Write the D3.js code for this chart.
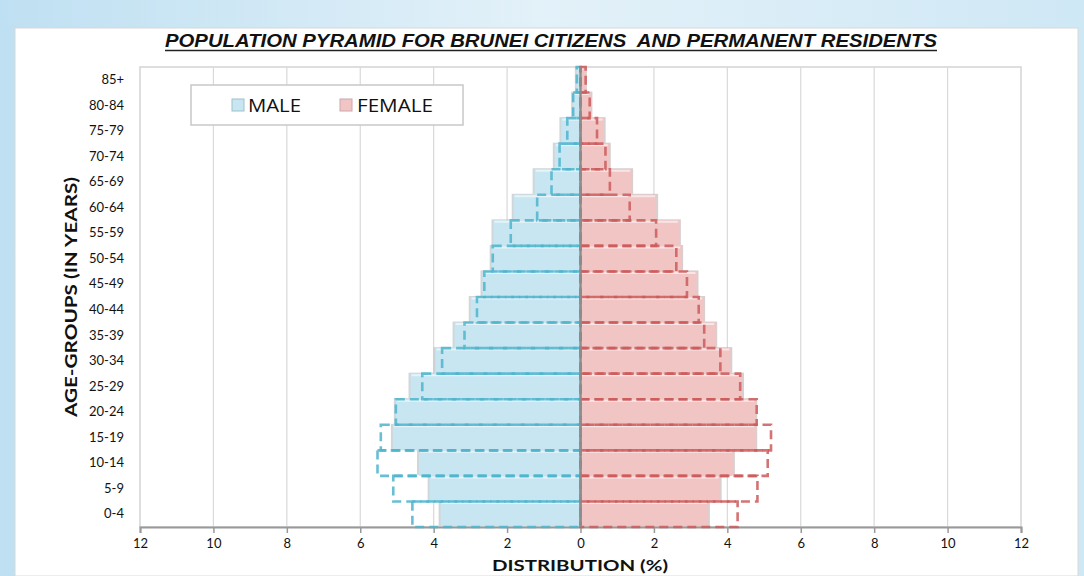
<!DOCTYPE html>
<html>
<head>
<meta charset="utf-8">
<script src="https://cdn.jsdelivr.net/npm/d3@7"></script>
<style>
  html, body { margin: 0; padding: 0; background: #fff; }
  svg { display: block; }
</style>
</head>
<body>
<svg id="chart" width="1084" height="576"></svg>
<script>
// ---- DATA (bottom age group first) ----
const categories = ["0-4","5-9","10-14","15-19","20-24","25-29","30-34","35-39","40-44","45-49","50-54","55-59","60-64","65-69","70-74","75-79","80-84","85+"];
const maleCurrent   = [3.81, 4.11, 4.40, 5.11, 5.03, 4.63, 3.95, 3.43, 2.99, 2.67, 2.42, 2.37, 1.82, 1.25, 0.70, 0.52, 0.20, 0.10];
const femaleCurrent = [3.47, 3.79, 4.15, 4.76, 4.76, 4.40, 4.08, 3.67, 3.34, 3.16, 2.74, 2.68, 2.06, 1.38, 0.77, 0.63, 0.27, 0.12];
const malePrevious   = [4.58, 5.10, 5.53, 5.44, 5.03, 4.31, 3.77, 3.16, 2.82, 2.62, 2.39, 1.90, 1.18, 0.79, 0.57, 0.36, 0.20, 0.10];
const femalePrevious = [4.28, 4.82, 5.10, 5.19, 4.80, 4.35, 3.81, 3.37, 3.22, 2.90, 2.61, 2.06, 1.34, 0.80, 0.68, 0.45, 0.25, 0.14];
const xTicks = [-12,-10,-8,-6,-4,-2,0,2,4,6,8,10,12];
const seriesNames = ["MALE","FEMALE"];
const titleText = "POPULATION PYRAMID FOR BRUNEI CITIZENS  AND PERMANENT RESIDENTS";
const xTitle = "DISTRIBUTION (%)";
const yTitle = "AGE-GROUPS (IN YEARS)";

// ---- LAYOUT ----
const W = 1084, H = 576;
const plot = {left: 140, right: 1021, top: 67, bottom: 527};
const colors = {
  maleFill: "#c7e6f1", femaleFill: "#f2c5c5",
  maleLine: "#4db4cd", femaleLine: "#cc5b5b",
  grid: "#d9d9d9", axis: "#999999", center: "#8c8c8c"
};

const svg = d3.select("#chart");

// background (window-like light blue frame)
const defs = svg.append("defs");
const bg = defs.append("linearGradient").attr("id","bgGrad").attr("x1","0").attr("y1","0").attr("x2","1").attr("y2","0");
bg.append("stop").attr("offset","0").attr("stop-color","#bfe0f2");
bg.append("stop").attr("offset","0.5").attr("stop-color","#e3f1f9");
bg.append("stop").attr("offset","1").attr("stop-color","#cfe8f5");
svg.append("rect").attr("width",W).attr("height",H).attr("fill","url(#bgGrad)");
svg.append("rect").attr("x",15).attr("y",28).attr("width",1063).attr("height",H-28)
  .attr("fill","#ffffff").attr("stroke","#d8d8d8").attr("stroke-width",1);

// scales
const x = d3.scaleLinear().domain([-12, 12]).range([plot.left, plot.right]);
const y = d3.scaleBand().domain(categories.slice().reverse()).range([plot.top, plot.bottom]).padding(0);

const data = categories.map((c, i) => ({
  cat: c, m: maleCurrent[i], f: femaleCurrent[i], mp: malePrevious[i], fp: femalePrevious[i]
}));

// plot area border
svg.append("rect").attr("x", plot.left).attr("y", plot.top)
  .attr("width", plot.right - plot.left).attr("height", plot.bottom - plot.top)
  .attr("fill", "none").attr("stroke", "#d4d4d4").attr("stroke-width", 1.5);

// vertical gridlines
svg.append("g").selectAll("line").data(xTicks.filter(t => t !== 0 && Math.abs(t) !== 12)).join("line")
  .attr("x1", d => x(d)).attr("x2", d => x(d))
  .attr("y1", plot.top).attr("y2", plot.bottom)
  .attr("stroke", colors.grid).attr("stroke-width", 1.2);

// filled bars (current)
const bars = svg.append("g");
// shadow / bevel edges
bars.selectAll("rect.ms").data(data).join("rect").attr("class","ms")
  .attr("x", d => x(-d.m) - 2).attr("y", d => y(d.cat) - 1)
  .attr("width", d => x(0) - x(-d.m) + 2).attr("height", y.bandwidth())
  .attr("fill", "#a9b7bc").attr("opacity", 0.55);
bars.selectAll("rect.fs").data(data).join("rect").attr("class","fs")
  .attr("x", x(0)).attr("y", d => y(d.cat) - 1)
  .attr("width", d => x(d.f) - x(0) + 2).attr("height", y.bandwidth())
  .attr("fill", "#bba6a6").attr("opacity", 0.55);
bars.selectAll("rect.m").data(data).join("rect").attr("class","m")
  .attr("x", d => x(-d.m)).attr("y", d => y(d.cat))
  .attr("width", d => x(0) - x(-d.m)).attr("height", y.bandwidth())
  .attr("fill", colors.maleFill);
bars.selectAll("rect.f").data(data).join("rect").attr("class","f")
  .attr("x", x(0)).attr("y", d => y(d.cat))
  .attr("width", d => x(d.f) - x(0)).attr("height", y.bandwidth())
  .attr("fill", colors.femaleFill);
// top highlight
bars.selectAll("line.mh").data(data).join("line").attr("class","mh")
  .attr("x1", d => x(-d.m) + 1).attr("x2", x(0))
  .attr("y1", d => y(d.cat) + 1.5).attr("y2", d => y(d.cat) + 1.5)
  .attr("stroke", "#ffffff").attr("stroke-opacity", 0.55).attr("stroke-width", 2);
bars.selectAll("line.fh").data(data).join("line").attr("class","fh")
  .attr("x1", x(0)).attr("x2", d => x(d.f) - 1)
  .attr("y1", d => y(d.cat) + 1.5).attr("y2", d => y(d.cat) + 1.5)
  .attr("stroke", "#ffffff").attr("stroke-opacity", 0.55).attr("stroke-width", 2);

// x axis
const xAxis = d3.axisBottom(x).tickValues(xTicks).tickFormat(d => Math.abs(d)).tickSize(6).tickPadding(6);
const gx = svg.append("g").attr("transform", `translate(0,${plot.bottom})`).call(xAxis);
gx.select(".domain").attr("stroke", colors.axis).attr("stroke-width", 2);
gx.selectAll(".tick line").attr("stroke", colors.axis).attr("stroke-width", 1.5);
gx.selectAll(".tick text").attr("font-family", "Lato, 'Open Sans', sans-serif")
  .attr("font-size", 13).attr("fill", "#111");

// dashed outlines (previous)
const dashes = svg.append("g").attr("fill", "none").attr("stroke-width", 2.6).attr("stroke-dasharray", "9,5");
dashes.selectAll("rect.mp").data(data).join("rect").attr("class","mp")
  .attr("x", d => x(-d.mp)).attr("y", d => y(d.cat))
  .attr("width", d => x(0) - x(-d.mp)).attr("height", y.bandwidth())
  .attr("stroke", colors.maleLine).attr("stroke-opacity", 0.85);
dashes.selectAll("rect.fp").data(data).join("rect").attr("class","fp")
  .attr("x", x(0)).attr("y", d => y(d.cat))
  .attr("width", d => x(d.fp) - x(0)).attr("height", y.bandwidth())
  .attr("stroke", colors.femaleLine).attr("stroke-opacity", 0.85);

// center line at zero
svg.append("line").attr("x1", x(0)).attr("x2", x(0)).attr("y1", plot.top).attr("y2", plot.bottom)
  .attr("stroke", colors.center).attr("stroke-width", 2.4);

// y axis labels
const yAxis = d3.axisLeft(y).tickSize(0).tickPadding(16);
const gy = svg.append("g").attr("transform", `translate(${plot.left},0)`).call(yAxis);
gy.select(".domain").remove();
gy.selectAll(".tick text").attr("font-family", "Lato, 'Open Sans', sans-serif")
  .attr("font-size", 13).attr("fill", "#111");

// title
svg.append("text").attr("x", 551).attr("y", 47).attr("text-anchor", "middle")
  .attr("font-family", "'Liberation Sans Narrow', 'Liberation Sans', Arial, sans-serif")
  .attr("font-weight", "bold").attr("font-style", "italic").attr("font-size", 19)
  .attr("textLength", 772).attr("lengthAdjust", "spacingAndGlyphs")
  .attr("fill", "#111").style("white-space", "pre").text(titleText);
svg.append("line").attr("x1", 165).attr("x2", 937).attr("y1", 50.5).attr("y2", 50.5)
  .attr("stroke", "#222").attr("stroke-width", 1.4);

// axis titles
svg.append("text").attr("x", 580).attr("y", 571).attr("text-anchor", "middle")
  .attr("font-family", "Lato, 'Open Sans', sans-serif").attr("font-weight", "bold")
  .attr("font-size", 16).attr("textLength", 176).attr("lengthAdjust", "spacingAndGlyphs")
  .attr("fill", "#111").text(xTitle);
svg.append("text").attr("transform", "translate(77,297) rotate(-90)").attr("text-anchor", "middle")
  .attr("font-family", "Lato, 'Open Sans', sans-serif").attr("font-weight", "bold")
  .attr("font-size", 17).attr("textLength", 240).attr("lengthAdjust", "spacingAndGlyphs")
  .attr("fill", "#111").text(yTitle);

// legend
const lg = svg.append("g");
lg.append("rect").attr("x", 191).attr("y", 85).attr("width", 272).attr("height", 40)
  .attr("fill", "#fff").attr("stroke", "#c8c8c8").attr("stroke-width", 1.5);
const legendItems = [
  {name: seriesNames[0], fill: colors.maleFill, edge: "#9cc2cc", sx: 232, tx: 248, tw: 53},
  {name: seriesNames[1], fill: colors.femaleFill, edge: "#c9a8ad", sx: 340, tx: 357, tw: 76}
];
legendItems.forEach(it => {
  lg.append("rect").attr("x", it.sx).attr("y", 99).attr("width", 12).attr("height", 12)
    .attr("fill", it.fill).attr("stroke", it.edge).attr("stroke-width", 1);
  lg.append("text").attr("x", it.tx).attr("y", 112)
    .attr("font-family", "'Open Sans', 'Liberation Sans', sans-serif").attr("font-size", 19)
    .attr("textLength", it.tw).attr("lengthAdjust", "spacingAndGlyphs")
    .attr("fill", "#111").text(it.name);
});
</script>
</body>
</html>
